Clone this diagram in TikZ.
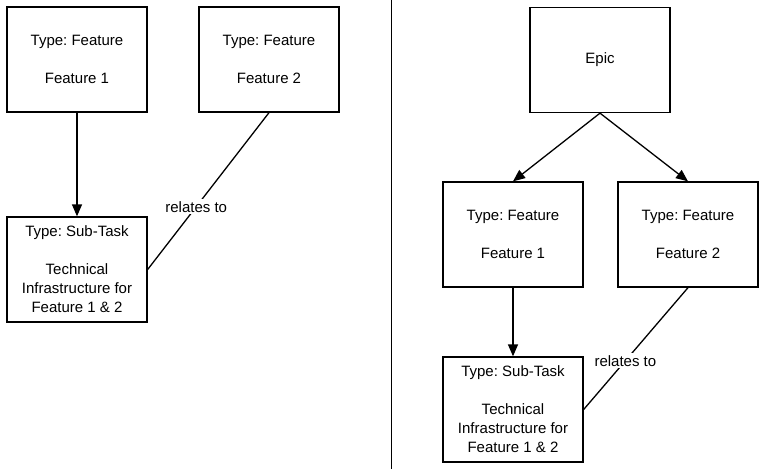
\documentclass[tikz,border=0pt]{standalone}
\usepackage{fontspec}
\setmainfont{Liberation Sans}
\frenchspacing
\usetikzlibrary{arrows.meta}
\tikzset{
  card/.style={draw=black, line width=1.3pt, minimum width=140pt, minimum height=105pt, align=center, inner sep=0pt, font=\fontsize{15}{19}\selectfont},
  link/.style={line width=1.3pt, draw=black},
  arr/.style={link, -{Triangle[length=12pt,width=10pt]}},
  lbl/.style={fill=white, inner sep=2pt, font=\fontsize{15}{19}\selectfont}
}
\begin{document}
\begin{tikzpicture}[x=1pt,y=-1pt]
\useasboundingbox (0,0) rectangle (768,469);
% left
\node[card] (A) at (77,59.5) {Type: Feature\\[19pt]Feature 1};
\node[card] (B) at (269,59.5) {Type: Feature\\[19pt]Feature 2};
\node[card] (C) at (77,269.5) {Type: Sub-Task\\[19pt]Technical\\Infrastructure for\\Feature 1 \& 2};
\draw[arr] (A) -- (C);
\draw[link] (B.south) -- node[lbl, pos=0.6] {relates to} (C.east);
% divider
\coordinate (d1) at (391,0);
\coordinate (d2) at (391,469);
\draw[line width=1pt] (d1) -- (d2);
% right
\node[card] (E) at (600,60) {Epic};
\node[card] (F1) at (513,234.5) {Type: Feature\\[19pt]Feature 1};
\node[card] (F2) at (688,234.5) {Type: Feature\\[19pt]Feature 2};
\node[card] (S) at (513,409.5) {Type: Sub-Task\\[19pt]Technical\\Infrastructure for\\Feature 1 \& 2};
\draw[arr] (E.south) -- (F1.north);
\draw[arr] (E.south) -- (F2.north);
\draw[arr] (F1) -- (S);
\draw[link] (F2.south) -- node[lbl, pos=0.6] {relates to} (S.east);
\end{tikzpicture}
\end{document}
